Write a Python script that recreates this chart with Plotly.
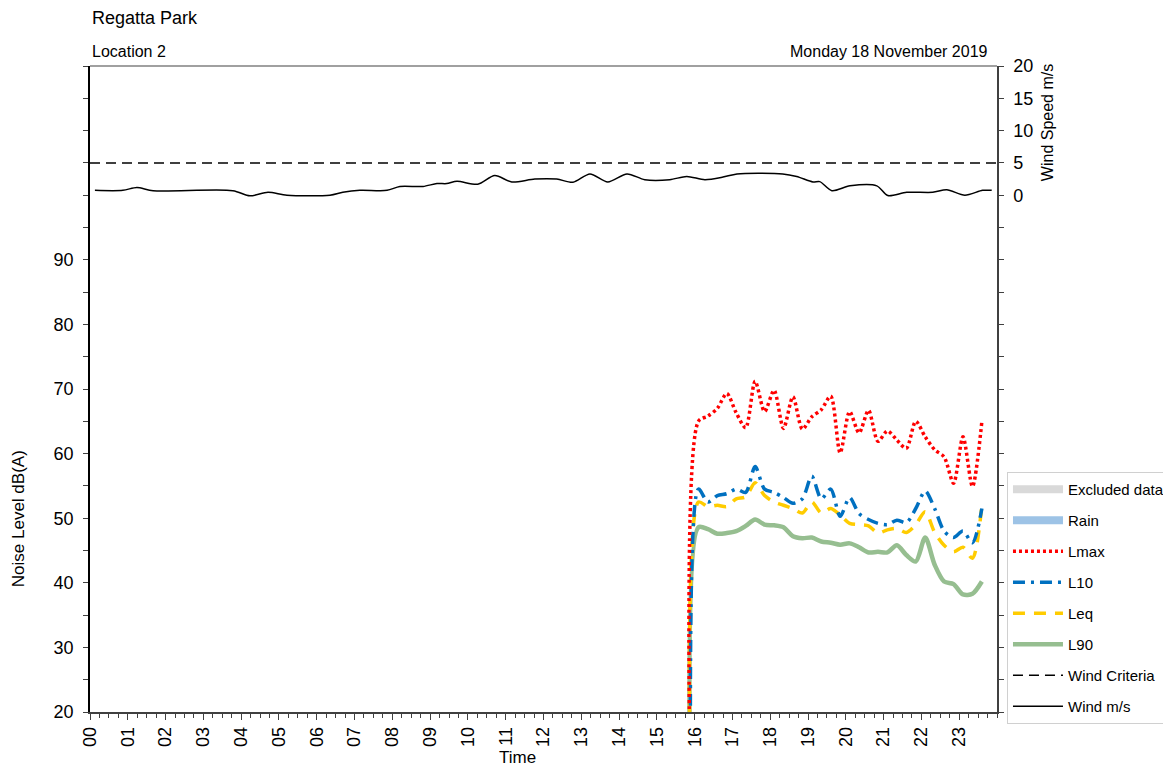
import plotly.graph_objects as go

# ---------------- data ----------------
noise_times = [15.90, 16.10, 16.35, 16.60, 16.85, 17.10, 17.35, 17.60, 17.85, 18.10,
               18.35, 18.60, 18.85, 19.10, 19.35, 19.60, 19.85, 20.10, 20.35, 20.60,
               20.85, 21.10, 21.35, 21.60, 21.85, 22.10, 22.35, 22.60, 22.85, 23.10,
               23.35, 23.60]
lmax = [0, 65.0, 65.8, 67.0, 69.3, 66.3, 64.0, 71.2, 66.5, 69.8, 63.9, 68.8, 63.8, 65.7,
        66.8, 68.9, 60.1, 66.5, 63.2, 66.7, 61.9, 63.5, 62.1, 60.8, 65.0, 62.6, 60.6,
        59.5, 55.4, 62.6, 54.9, 65.0]
l10 = [0, 54.5, 52.5, 53.5, 53.8, 54.5, 54.0, 58.0, 54.5, 54.0, 53.2, 52.3, 53.0, 56.5,
       53.0, 54.5, 50.3, 53.2, 50.7, 49.8, 49.2, 49.0, 49.7, 49.3, 51.5, 54.2, 51.5,
       48.0, 47.0, 48.0, 46.2, 51.5]
leq = [0, 52.5, 51.8, 52.0, 51.8, 53.0, 53.3, 55.5, 53.5, 52.5, 52.0, 51.5, 50.8, 52.5,
       50.8, 51.5, 50.5, 49.2, 49.0, 48.8, 47.7, 48.2, 48.4, 47.8, 49.0, 51.0, 47.8,
       45.8, 44.8, 45.5, 43.8, 52.0]
l90 = [0, 48.6, 48.3, 47.6, 47.7, 48.0, 48.8, 49.8, 49.0, 48.9, 48.6, 47.2, 46.9, 47.0,
       46.4, 46.2, 45.9, 46.1, 45.5, 44.7, 44.8, 44.7, 45.8, 44.3, 43.3, 47.0, 42.8,
       40.2, 39.8, 38.2, 38.3, 40.2]

wind_times = [0.13, 0.87, 1.24, 1.67, 3.78, 4.23, 4.71, 5.21, 6.35, 6.69, 7.14, 7.86,
              8.20, 8.81, 9.18, 9.44, 9.71, 10.26, 10.71, 11.16, 11.77, 12.35, 12.78,
              13.23, 13.70, 14.21, 14.68, 15.34, 15.79, 16.27, 16.75, 17.12, 18.33,
              18.70, 19.13, 19.31, 19.63, 20.11, 20.82, 21.11, 21.61, 22.30, 22.67,
              23.15, 23.62, 23.86]
wind_speed = [0.75, 0.75, 1.2, 0.7, 0.7, -0.1, 0.45, 0.0, 0.0, 0.45, 0.75, 0.75,
              1.35, 1.35, 1.8, 1.8, 2.15, 1.7, 3.05, 2.05, 2.5, 2.5, 2.0,
              3.3, 2.05, 3.3, 2.4, 2.4, 2.9, 2.4, 2.8, 3.3, 3.3,
              2.9, 2.05, 2.1, 0.7, 1.45, 1.45, -0.05, 0.45, 0.45, 0.85,
              0.0, 0.75, 0.75]

wind_criteria_x = [0, 24]
wind_criteria_y = [5, 5]

hour_ticks = list(range(24))
hour_labels = ["%02d" % h for h in hour_ticks]
noise_ticks = list(range(20, 125, 5))
noise_labels = [str(v) if (v % 10 == 0 and v <= 90) else "" for v in noise_ticks]
wind_ticks = list(range(-80, 25, 5))
wind_labels = [str(v) if v >= 0 else "" for v in wind_ticks]

FONT = "Liberation Sans, Arial, sans-serif"

fig = go.Figure()

def legend_only(name, color, rank):
    fig.add_trace(go.Scatter(x=[None], y=[None], mode="lines", name=name,
                             line=dict(color=color, width=8),
                             legendgroup=name, legendrank=rank, hoverinfo="skip"))

legend_only("Excluded data", "#D9D9D9", 1)
legend_only("Rain", "#9DC3E6", 2)

fig.add_trace(go.Scatter(x=noise_times, y=l90, mode="lines", name="L90",
                         line=dict(color="#96BE90", width=4.5, shape="spline", smoothing=0.8),
                         legendgroup="L90", legendrank=6))
fig.add_trace(go.Scatter(x=noise_times, y=leq, mode="lines", name="Leq",
                         line=dict(color="#FFCC00", width=3.5, dash="12px,9px",
                                   shape="spline", smoothing=0.8),
                         legendgroup="Leq", legendrank=5))
fig.add_trace(go.Scatter(x=noise_times, y=l10, mode="lines", name="L10",
                         line=dict(color="#0070C0", width=3.5, dash="12px,6px,3px,6px",
                                   shape="spline", smoothing=0.8),
                         legendgroup="L10", legendrank=4))
fig.add_trace(go.Scatter(x=noise_times, y=lmax, mode="lines", name="Lmax",
                         line=dict(color="#FF0000", width=3.5, dash="3px,3px",
                                   shape="spline", smoothing=0.8),
                         legendgroup="Lmax", legendrank=3))
fig.add_trace(go.Scatter(x=wind_criteria_x, y=wind_criteria_y, mode="lines",
                         name="Wind Criteria", yaxis="y2",
                         line=dict(color="#000000", width=1.5, dash="10px,6px"),
                         legendgroup="Wind Criteria", legendrank=7))
fig.add_trace(go.Scatter(x=wind_times, y=wind_speed, mode="lines", name="Wind m/s",
                         yaxis="y2",
                         line=dict(color="#000000", width=1.5, shape="spline", smoothing=0.8),
                         legendgroup="Wind m/s", legendrank=8))

fig.update_layout(
    width=1163, height=762,
    margin=dict(l=82, r=174, t=58, b=58, autoexpand=False),
    paper_bgcolor="white", plot_bgcolor="white",
    font=dict(family=FONT, size=18, color="#000000"),
    showlegend=True,
    legend=dict(x=1.011, y=0.3715, xanchor="left", yanchor="top",
                bordercolor="#D0D0D0", borderwidth=1, bgcolor="white",
                font=dict(family=FONT, size=15), itemwidth=50,
                tracegroupgap=8.5, traceorder="grouped"),
    xaxis=dict(range=[0, 24], tickvals=hour_ticks, ticktext=hour_labels,
               tickangle=-90, ticks="outside", ticklen=6, tickcolor="#404040",
               showline=True, linecolor="#404040", linewidth=1.5,
               showgrid=False, zeroline=False,
               minor=dict(dtick=0.25, tick0=0, ticks="outside", ticklen=4,
                          tickcolor="#404040", showgrid=False)),
    yaxis=dict(range=[20, 120], tickvals=noise_ticks, ticktext=noise_labels,
               ticks="outside", ticklen=5, tickcolor="#404040",
               showline=True, linecolor="#000000", linewidth=1.5,
               showgrid=False, zeroline=False, ticklabelstandoff=6),
    yaxis2=dict(range=[-80, 20], tickvals=wind_ticks, ticktext=wind_labels,
                overlaying="y", side="right",
                ticks="outside", ticklen=5, tickcolor="#404040",
                showline=True, linecolor="#404040", linewidth=1.5,
                showgrid=False, zeroline=False, ticklabelstandoff=6),
    shapes=[dict(type="line", xref="paper", yref="paper", x0=0, x1=1, y0=1, y1=1,
                 line=dict(color="#808080", width=1.5))],
    annotations=[
        dict(text="Regatta Park", xref="paper", yref="paper", x=0, y=1.0743,
             xanchor="left", yanchor="middle", showarrow=False,
             font=dict(family=FONT, size=18)),
        dict(text="Location 2", xref="paper", yref="paper", x=0, y=1.0217,
             xanchor="left", yanchor="middle", showarrow=False,
             font=dict(family=FONT, size=16)),
        dict(text="Monday 18 November 2019", xref="paper", yref="paper", x=0.9923,
             y=1.0217, xanchor="right", yanchor="middle", showarrow=False,
             font=dict(family=FONT, size=16)),
        dict(text="Time", xref="paper", yref="paper", x=0.4708, y=-0.0712,
             xanchor="center", yanchor="middle", showarrow=False,
             font=dict(family=FONT, size=17)),
        dict(text="Noise Level dB(A)", xref="paper", yref="paper", x=-0.0794, y=0.30,
             xanchor="center", yanchor="middle", showarrow=False, textangle=-90,
             font=dict(family=FONT, size=17)),
        dict(text="Wind Speed m/s", xref="paper", yref="paper", x=1.0551, y=0.913,
             xanchor="center", yanchor="middle", showarrow=False, textangle=-90,
             font=dict(family=FONT, size=16)),
    ],
)

fig.write_html("out.html")
